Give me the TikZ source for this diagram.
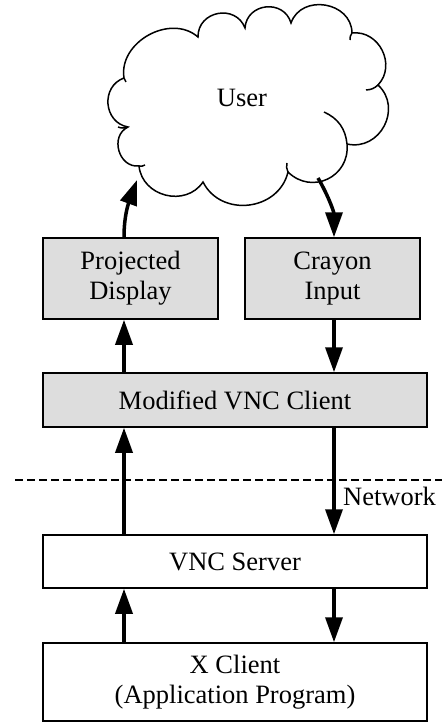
\documentclass[tikz,border=0pt]{standalone}
\usepackage{fontspec}
\setmainfont{Liberation Serif}
\usetikzlibrary{arrows.meta}
\definecolor{boxgray}{RGB}{221,221,221}
\tikzset{
  box/.style={draw=black, line width=1.5pt, inner sep=0pt, align=center,
    font=\fontsize{26.5}{30}\selectfont},
  graybox/.style={box, fill=boxgray},
  whitebox/.style={box, fill=white},
  arr/.style={line width=3.5pt, -{Triangle[length=25pt,width=17pt]}},
  lbl/.style={font=\fontsize{26.5}{30}\selectfont, inner sep=0pt},
}
\begin{document}
\begin{tikzpicture}[x=1pt,y=-1pt]
\useasboundingbox (0,0) rectangle (442,722);
% cloud
\draw[line width=1.5pt, fill=white]
  (124,78) to[bend left=70,looseness=1.1] (198,37)
  to[bend left=80,looseness=1.4] (245,28)
  to[bend left=80,looseness=1.4] (291,23)
  to[bend left=80,looseness=1.3] (352,33)
  to[bend left=70,looseness=1.2] (378,85)
  to[bend left=75,looseness=1.3] (347,144)
  to[bend left=70,looseness=1.3] (288,172)
  to[bend left=70,looseness=1.2] (203,182)
  to[bend left=70,looseness=1.2] (139,166)
  to[bend left=80,looseness=1.3] (128,127)
  to[bend left=75,looseness=1.3] cycle;
% inner tails
\draw[line width=1.5pt] (124,78) to[bend left=20] (126,82);
\draw[line width=1.5pt] (352,33) to[bend right=20] (350,40);
\draw[line width=1.5pt] (378,85) to[bend left=20] (366,90);
\draw[line width=1.5pt] (347,144) to[bend right=30] (324,112);
\draw[line width=1.5pt] (288,172) to[bend left=20] (287,163);
\draw[line width=1.5pt] (139,166) to[bend right=20] (145,165);
\draw[line width=1.5pt] (128,127) to[bend left=20] (118,127);
\node[lbl] (user) at (242,98) {User};
\coordinate (c1) at (137,180);
\coordinate (c2) at (318,178);
% boxes
\node[graybox, minimum width=175pt, minimum height=81pt] (pd) at (130.5,278.5) {Projected\\Display};
\node[graybox, minimum width=175pt, minimum height=81pt] (ci) at (332.5,278.5) {Crayon\\Input};
\node[graybox, minimum width=384pt, minimum height=54pt] (mvc) at (235,400) {Modified VNC Client};
\node[whitebox, minimum width=384pt, minimum height=53pt] (vs) at (235,561.5) {VNC Server};
\node[whitebox, minimum width=384pt, minimum height=78pt] (xc) at (235,682) {X Client\\(Application Program)};
\coordinate (lx) at (124,0);
\coordinate (rx) at (334,0);
% network line
\coordinate (n1) at (15,480);
\coordinate (n2) at (442,480);
\draw[line width=1.5pt, dash pattern=on 8pt off 4pt] (n1) -- (n2);
\node[lbl, anchor=base west] (net) at (343,505) {Network};
% arrows
\draw[arr] (pd.north -| lx) to[out=90,in=250] (c1);
\draw[arr] (c2) to[out=300,in=90] (ci.north -| rx);
\draw[arr] (mvc.north -| lx) -- (pd.south -| lx);
\draw[arr] (ci.south -| rx) -- (mvc.north -| rx);
\draw[arr] (vs.north -| lx) -- (mvc.south -| lx);
\draw[arr] (mvc.south -| rx) -- (vs.north -| rx);
\draw[arr] (xc.north -| lx) -- (vs.south -| lx);
\draw[arr] (vs.south -| rx) -- (xc.north -| rx);
\end{tikzpicture}
\end{document}
